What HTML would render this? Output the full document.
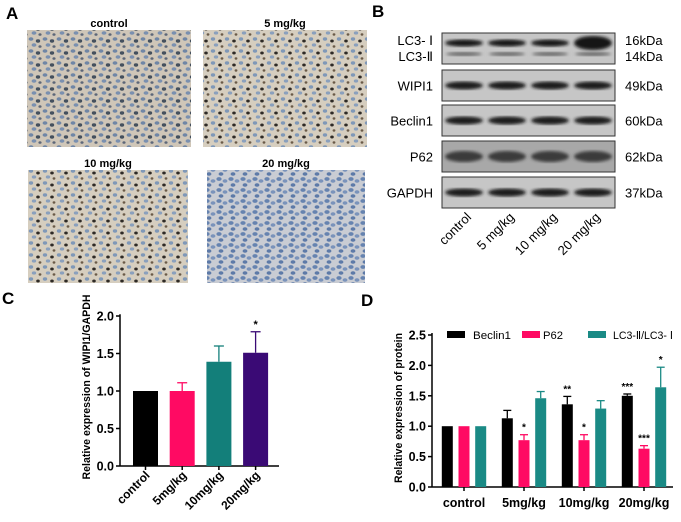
<!DOCTYPE html>
<html><head><meta charset="utf-8"><style>
body{margin:0;background:#fff;}
svg{display:block;font-family:"Liberation Sans",Arial,sans-serif;}
</style></head><body>
<svg id="fig" width="681" height="522" viewBox="0 0 681 522" xmlns="http://www.w3.org/2000/svg">
<defs>
<pattern id="cellsA" width="14" height="12" patternUnits="userSpaceOnUse">
<rect width="14" height="12" fill="#cfc6b8"/>
<ellipse cx="3" cy="3" rx="2.4" ry="1.8" fill="#6f86a6"/>
<ellipse cx="10" cy="5" rx="2.2" ry="1.7" fill="#44505e"/>
<ellipse cx="6" cy="9" rx="2.4" ry="1.8" fill="#7a90b0"/>
<ellipse cx="12" cy="10.5" rx="1.6" ry="1.3" fill="#5c6678"/>
</pattern>
<pattern id="cellsB" width="14" height="12" patternUnits="userSpaceOnUse">
<rect width="14" height="12" fill="#d6cebf"/>
<ellipse cx="3" cy="3" rx="2.2" ry="1.7" fill="#7f98b8"/>
<ellipse cx="10" cy="5" rx="1.8" ry="1.5" fill="#2e2a26"/>
<ellipse cx="6" cy="9" rx="2.2" ry="1.6" fill="#8aa0bd"/>
<ellipse cx="12" cy="10.5" rx="1.4" ry="1.2" fill="#6a5a48"/>
</pattern>
<pattern id="cellsD" width="12" height="11" patternUnits="userSpaceOnUse">
<rect width="12" height="11" fill="#c9ccd3"/>
<ellipse cx="3" cy="3" rx="2.6" ry="1.9" fill="#6683b0"/>
<ellipse cx="9" cy="5" rx="2.4" ry="1.8" fill="#7a93bb"/>
<ellipse cx="5" cy="9" rx="2.4" ry="1.8" fill="#5d7aa8"/>
</pattern>
<filter id="blur1"><feGaussianBlur stdDeviation="1.6"/></filter>
</defs>

<text x="6" y="19" font-size="17" font-weight="bold">A</text>
<text x="109" y="27" font-size="11" font-weight="bold" text-anchor="middle">control</text>
<rect x="27" y="30" width="164" height="117" fill="url(#cellsA)"/>
<text x="285" y="27" font-size="11" font-weight="bold" text-anchor="middle">5 mg/kg</text>
<rect x="203" y="30" width="164" height="117" fill="url(#cellsB)"/>
<text x="108" y="167" font-size="11" font-weight="bold" text-anchor="middle">10 mg/kg</text>
<rect x="28" y="170" width="160" height="113" fill="url(#cellsB)"/>
<text x="286" y="167" font-size="11" font-weight="bold" text-anchor="middle">20 mg/kg</text>
<rect x="207" y="170" width="158" height="113" fill="url(#cellsD)"/>

<text x="372" y="17" font-size="17" font-weight="bold">B</text>
<g id="blot"></g>

<text x="2" y="304" font-size="17" font-weight="bold">C</text>
<g id="chartC"></g>

<text x="361" y="306" font-size="17" font-weight="bold">D</text>
<g id="chartD"></g>
</svg>
<script>
const NS="http://www.w3.org/2000/svg";
function mk(tag,attrs,parent,txt){const e=document.createElementNS(NS,tag);for(const k in attrs)e.setAttribute(k,attrs[k]);if(txt!==undefined)e.textContent=txt;parent.appendChild(e);return e;}

/* ---------- Blot ---------- */
const blotRows=["LC3- Ⅰ|LC3-Ⅱ","WIPI1","Beclin1","P62","GAPDH"];
const blotKda=["16kDa|14kDa","49kDa","60kDa","62kDa","37kDa"];
const blotLanes=["control","5 mg/kg","10 mg/kg","20 mg/kg"];
const blot=document.getElementById('blot');
const rowTop=[33,70,105,141,177], rowH=31, bx0=442, bx1=615;
blotRows.forEach((r,i)=>{
  const y=rowTop[i];
  const box=mk('rect',{x:bx0,y:y,width:bx1-bx0,height:rowH,fill:i==3?'#a8a8a8':'#c6c6c6',stroke:'#333','stroke-width':1},blot);
  
  
  blotLanes.forEach((l,j)=>{
    const cx=bx0+22+j*43;
    if(i==0){
      mk('ellipse',{cx:cx,cy:y+10,rx:19,ry:j==3?7:3.5,fill:'#151515',filter:'url(#blur1)'},blot);
      mk('ellipse',{cx:cx,cy:y+21,rx:18,ry:2,fill:'#666',filter:'url(#blur1)'},blot);
    } else {
      mk('ellipse',{cx:cx,cy:y+rowH/2,rx:19,ry:i==3?5.5:4,fill:i==3?'#3a3a3a':'#1a1a1a',filter:'url(#blur1)'},blot);
    }
  });
  const parts=r.split('|'), kp=blotKda[i].split('|');
  parts.forEach((p,k)=>{
    const t=mk('text',{x:433,y:parts.length>1?y+12+k*16:y+rowH/2+5,'font-size':13,'text-anchor':'end'},blot,p);
    
    
  });
  kp.forEach((p,k)=>{
    const t=mk('text',{x:625,y:kp.length>1?y+12+k*16:y+rowH/2+5,'font-size':13},blot,p);
    
    
  });
});
blotLanes.forEach((l,j)=>{
  const x=bx0+30+j*43, y=218;
  const t=mk('text',{x:x,y:y,'font-size':13,'text-anchor':'end',transform:`rotate(-45 ${x} ${y})`},blot,l);
  
  
});

/* ---------- Chart C ---------- */
const cCats=["control","5mg/kg","10mg/kg","20mg/kg"];
const cVals=[1.0,1.0,1.39,1.51];
const cErr=[0,0.11,0.21,0.28];
const cSig=["","","","*"];
const cTicks=[0,0.5,1.0,1.5,2.0];
const cColors=["#000000","#ff0a63","#137f7a","#3a0a75"];
(function(){
  const g=document.getElementById('chartC');
  const x0=120,x1=279,y0=466,sy=75;
  const Y=v=>y0-v*sy, X=i=>145.5+i*36.7;
  mk('line',{x1:x0,y1:Y(0),x2:x0,y2:Y(2.05)+2,stroke:'#000','stroke-width':1.5},g);
  mk('line',{x1:x0,y1:y0,x2:x1,y2:y0,stroke:'#000','stroke-width':1.5},g);
  cTicks.forEach(t=>{
    mk('line',{x1:x0-4,y1:Y(t),x2:x0,y2:Y(t),stroke:'#000','stroke-width':1.5},g);
    const e=mk('text',{x:x0-6,y:Y(t)+4.5,'font-size':12.5,'font-weight':'bold','text-anchor':'end'},g,t.toFixed(1));
    
    
  });
  cCats.forEach((c,i)=>{
    const cx=X(i),w=25,v=cVals[i];
    if(cErr[i]>0){
      mk('line',{x1:cx,y1:Y(v),x2:cx,y2:Y(v+cErr[i]),stroke:cColors[i],'stroke-width':1.3},g);
      mk('line',{x1:cx-5,y1:Y(v+cErr[i]),x2:cx+5,y2:Y(v+cErr[i]),stroke:cColors[i],'stroke-width':1.3},g);
    }
    const b=mk('rect',{x:cx-w/2,y:Y(v),width:w,height:v*sy,fill:cColors[i]},g);
    
    
    if(cSig[i]){const s=mk('text',{x:cx,y:Y(v+cErr[i])-4,'font-size':11,'font-weight':'bold','text-anchor':'middle'},g,cSig[i]);
      }
    mk('line',{x1:cx,y1:y0,x2:cx,y2:y0+4,stroke:'#000','stroke-width':1.5},g);
    const ly=y0+10, lx=cx+5;
    const t=mk('text',{x:lx,y:ly,'font-size':12,'font-weight':'bold','text-anchor':'end',transform:`rotate(-45 ${lx} ${ly})`},g,c);
    
    
  });
  const yt=mk('text',{x:0,y:0,'font-size':11,'font-weight':'bold','text-anchor':'middle',textLength:185,lengthAdjust:'spacingAndGlyphs',transform:'translate(90 387) rotate(-90)'},g,'Relative expression of WIPI1/GAPDH');
  
  
})();

/* ---------- Chart D ---------- */
const dCats=["control","5mg/kg","10mg/kg","20mg/kg"];
const dSeries=["Beclin1","P62","LC3-Ⅱ/LC3- Ⅰ"];
const dBeclin=[1.0,1.13,1.36,1.50];
const dBeclinErr=[0,0.13,0.13,0.03];
const dP62=[1.0,0.77,0.77,0.63];
const dP62Err=[0,0.09,0.09,0.05];
const dLC3=[1.0,1.46,1.29,1.64];
const dLC3Err=[0,0.11,0.13,0.33];
const dSigBeclin=["","","**","***"];
const dSigP62=["","*","*","***"];
const dSigLC3=["","","","*"];
const dTicks=[0,0.5,1.0,1.5,2.0,2.5];
const dColors=["#000000","#ff0a63","#1a8a85"];
(function(){
  const g=document.getElementById('chartD');
  const x0=432,x1=673,y0=487,sy=60.8;
  const Y=v=>y0-v*sy, X=i=>464+i*60;
  mk('line',{x1:x0,y1:y0,x2:x0,y2:Y(2.5)-2,stroke:'#000','stroke-width':1.5},g);
  mk('line',{x1:x0,y1:y0,x2:x1,y2:y0,stroke:'#000','stroke-width':1.5},g);
  dTicks.forEach(t=>{
    mk('line',{x1:x0-4,y1:Y(t),x2:x0,y2:Y(t),stroke:'#000','stroke-width':1.5},g);
    const e=mk('text',{x:x0-6,y:Y(t)+4.5,'font-size':12.5,'font-weight':'bold','text-anchor':'end'},g,t.toFixed(1));
    
    
  });
  const vals=[dBeclin,dP62,dLC3],errs=[dBeclinErr,dP62Err,dLC3Err],sigs=[dSigBeclin,dSigP62,dSigLC3];
  dCats.forEach((c,i)=>{
    const cx=X(i);
    vals.forEach((arr,s)=>{
      const bx=cx+(s-1)*16.7, w=11, v=arr[i], e=errs[s][i];
      if(e>0){
        mk('line',{x1:bx,y1:Y(v),x2:bx,y2:Y(v+e),stroke:dColors[s],'stroke-width':1.3},g);
        mk('line',{x1:bx-4,y1:Y(v+e),x2:bx+4,y2:Y(v+e),stroke:dColors[s],'stroke-width':1.3},g);
      }
      const b=mk('rect',{x:bx-w/2,y:Y(v),width:w,height:v*sy,fill:dColors[s]},g);
      
      
      if(sigs[s][i]){const st=mk('text',{x:bx,y:Y(v+e)-4,'font-size':10,'font-weight':'bold','text-anchor':'middle'},g,sigs[s][i]);
        }
    });
    mk('line',{x1:cx,y1:y0,x2:cx,y2:y0+4,stroke:'#000','stroke-width':1.5},g);
    const t=mk('text',{x:cx,y:507,'font-size':12.5,'font-weight':'bold','text-anchor':'middle'},g,c);
    
    
  });
  const lx=[447,522,588], lt=[473,543,613], lw=[38,20,60];
  dSeries.forEach((s,k)=>{
    const r=mk('rect',{x:lx[k],y:331,width:18,height:7,fill:dColors[k]},g);
    
    
    const t=mk('text',{x:lt[k],y:339,'font-size':11,textLength:lw[k],lengthAdjust:'spacingAndGlyphs'},g,s);
    
    
  });
  const yt=mk('text',{x:0,y:0,'font-size':11,'font-weight':'bold','text-anchor':'middle',textLength:150,lengthAdjust:'spacingAndGlyphs',transform:'translate(402 408) rotate(-90)'},g,'Relative expression of protein');
  
  
})();
</script>
</body></html>
